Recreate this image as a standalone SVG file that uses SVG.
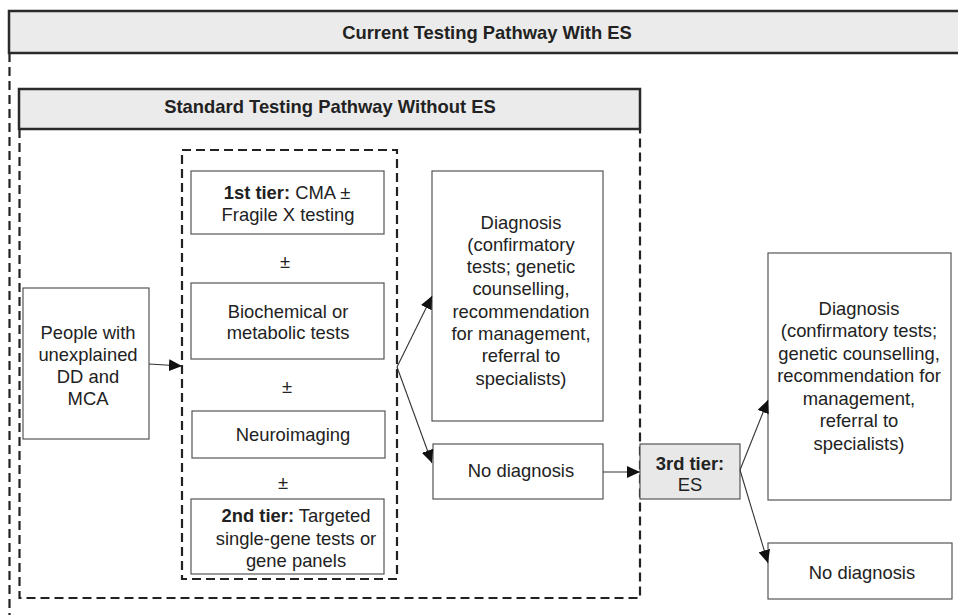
<svg xmlns="http://www.w3.org/2000/svg" width="958" height="615" viewBox="0 0 958 615">
<style>
.hdr{fill:#ebebeb;stroke:#2a2a2a;stroke-width:2.5}
.box{fill:#fff;stroke:#555;stroke-width:1.2}
.gbox{fill:#e8e8e8;stroke:#555;stroke-width:1.2}
.dash{fill:none;stroke:#222;stroke-width:2.2;stroke-dasharray:9 5}
.t{font-family:"Liberation Sans",Arial,Helvetica,sans-serif;font-size:18.4px;fill:#222;text-anchor:middle}
.h{font-family:"Liberation Sans",Arial,Helvetica,sans-serif;font-size:18.4px;font-weight:bold;fill:#222;text-anchor:middle}
.b{font-weight:bold}
.c{fill:none;stroke:#333;stroke-width:1.1;marker-end:url(#ah)}
</style>
<defs>
<marker id="ah" markerUnits="userSpaceOnUse" markerWidth="14" markerHeight="12" viewBox="0 0 14 12" refX="13" refY="6" orient="auto">
<path d="M0 0 L13 6 L0 12 Z" fill="#111"/>
</marker>
</defs>
<rect width="958" height="615" fill="#fff"/>

<g id="outer-frame">
<path class="dash" d="M9.5 53 V615"/>
<rect class="hdr" x="9" y="11" width="960" height="42"/>
<text class="h" x="487" y="39">Current Testing Pathway With ES</text>
</g>

<g id="inner-frame">
<path class="dash" d="M19.5 129 V598 H640 V129"/>
<rect class="hdr" x="19" y="89" width="621" height="40"/>
<text class="h" x="330" y="113">Standard Testing Pathway Without ES</text>
</g>

<g id="tests-frame">
<rect class="dash" x="182" y="150" width="215" height="429"/>
</g>

<g id="people">
<rect class="box" x="23" y="288" width="126" height="151"/>
<text class="t" x="88" y="339">People with</text>
<text class="t" x="88" y="361">unexplained</text>
<text class="t" x="88" y="383">DD and</text>
<text class="t" x="88" y="405">MCA</text>
</g>

<g id="tier1">
<rect class="box" x="191" y="171" width="193" height="63"/>
<text class="t" x="287" y="199"><tspan class="b">1st tier:</tspan> CMA ±</text>
<text class="t" x="288" y="221">Fragile X testing</text>
</g>
<g id="pm1"><text class="t" x="285" y="268">±</text></g>

<g id="biochem">
<rect class="box" x="191" y="283" width="193" height="76"/>
<text class="t" x="288" y="318">Biochemical or</text>
<text class="t" x="288" y="339">metabolic tests</text>
</g>
<g id="pm2"><text class="t" x="287" y="393">±</text></g>

<g id="neuro">
<rect class="box" x="192" y="411" width="193" height="47"/>
<text class="t" x="293" y="441">Neuroimaging</text>
</g>
<g id="pm3"><text class="t" x="283" y="489">±</text></g>

<g id="tier2">
<rect class="box" x="191" y="499" width="193" height="75"/>
<text class="t" x="296" y="522"><tspan class="b">2nd tier:</tspan> Targeted</text>
<text class="t" x="296" y="545">single-gene tests or</text>
<text class="t" x="296" y="567">gene panels</text>
</g>

<g id="diag1">
<rect class="box" x="432" y="171" width="171" height="250"/>
<text class="t" x="521" y="228.5">Diagnosis</text>
<text class="t" x="521" y="250.8">(confirmatory</text>
<text class="t" x="521" y="273.1">tests; genetic</text>
<text class="t" x="521" y="295.4">counselling,</text>
<text class="t" x="521" y="317.7">recommendation</text>
<text class="t" x="521" y="340">for management,</text>
<text class="t" x="521" y="362.3">referral to</text>
<text class="t" x="521" y="384.6">specialists)</text>
</g>

<g id="nodiag1">
<rect class="box" x="433" y="444" width="170" height="55"/>
<text class="t" x="521" y="476.5">No diagnosis</text>
</g>

<g id="tier3">
<rect class="gbox" x="640" y="444" width="100" height="55"/>
<text class="t" x="690" y="470"><tspan class="b">3rd tier:</tspan></text>
<text class="t" x="690" y="491">ES</text>
</g>

<g id="diag2">
<rect class="box" x="768" y="253" width="183" height="247"/>
<text class="t" x="859" y="314.5">Diagnosis</text>
<text class="t" x="859" y="337">(confirmatory tests;</text>
<text class="t" x="859" y="359.5">genetic counselling,</text>
<text class="t" x="859" y="382">recommendation for</text>
<text class="t" x="859" y="404.5">management,</text>
<text class="t" x="859" y="427">referral to</text>
<text class="t" x="859" y="449.5">specialists)</text>
</g>

<g id="nodiag2">
<rect class="box" x="768" y="543" width="184" height="56"/>
<text class="t" x="862" y="578.5">No diagnosis</text>
</g>

<g id="connectors">
<path class="c" d="M149 364 L182 366"/>
<path class="c" d="M397 367 L432 296"/>
<path class="c" d="M397 367 L432 463"/>
<path class="c" d="M603 472 L640 472"/>
<path class="c" d="M740 470 L768 400"/>
<path class="c" d="M740 470 L768 563"/>
</g>
</svg>
